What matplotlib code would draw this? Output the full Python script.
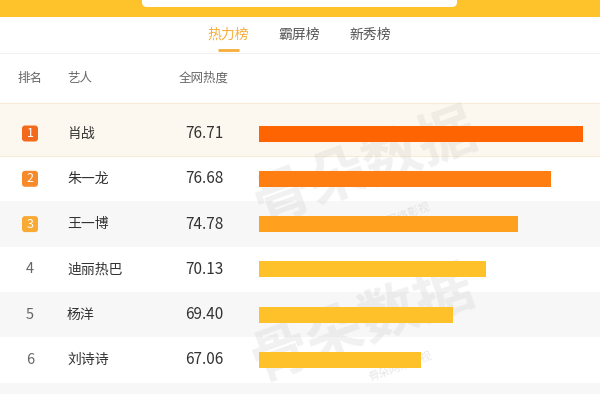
import matplotlib
matplotlib.use("Agg")
import matplotlib.pyplot as plt
from matplotlib.patches import FancyBboxPatch, Rectangle

plt.rcParams['font.family'] = ['Noto Sans CJK SC', 'DejaVu Sans']

# ---- data ----
tabs = ["热力榜", "霸屏榜", "新秀榜"]
columns = ["排名", "艺人", "全网热度"]
ranks = [1, 2, 3, 4, 5, 6]
artists = ["肖战", "朱一龙", "王一博", "迪丽热巴", "杨洋", "刘诗诗"]
heat = [76.71, 76.68, 74.78, 70.13, 69.40, 67.06]
bar_share = [100, 90, 80, 70, 60, 50]  # bar length, % of the longest bar
bar_colors = ["#fe6402", "#ff7e12", "#ffa01f", "#fec12a", "#fec12a", "#fec12a"]
badge_colors = ["#f26a1b", "#f68a2b", "#f9aa34"]

W, H = 600, 394
fig = plt.figure(figsize=(W / 100, H / 100), dpi=100)

# chrome layer in pixel coordinates
top = fig.add_axes([0, 0, 1, 1])
top.set_xlim(0, W)
top.set_ylim(H, 0)
top.axis("off")

top.add_patch(Rectangle((0, 0), W, 16.5, fc="#fec22b", ec="none"))
top.add_patch(FancyBboxPatch((142, -12), 315, 19, boxstyle="round,pad=0,rounding_size=5",
                             fc="white", ec="none"))
tab_x = [228, 299, 370]
for x, t in zip(tab_x, tabs):
    top.text(x, 35, t, ha="center", va="center", fontsize=10,
             color="#f7ad3a" if t == tabs[0] else "#555555")
top.plot([218, 239], [50, 50], color="#f7ad3a", lw=2, solid_capstyle="butt")
top.axhline(52.5, color="#f2f2f2", lw=0.8)

col_x = [17, 67, 179]
for x, c in zip(col_x, columns):
    top.text(x, 78, c, ha="left", va="center", fontsize=9, color="#666666")

# rows layer: x in pixels, y in rank units
row0, step = 133.5, 45.3
ylim = (1 + (H - row0) / step, 1 - row0 / step)
ax = fig.add_axes([0, 0, 1, 1], facecolor="none")
ax.set_xlim(0, W)
ax.set_ylim(*ylim)
ax.axis("off")

half = 0.5
# highlighted first row
first_top = ranks[0] - (row0 - 103) / step
ax.add_patch(Rectangle((0, first_top), W, ranks[0] + half - first_top,
                       fc="#fdf8ef", ec="none", zorder=0))
ax.axhline(first_top, color="#f6ecd9", lw=0.8, zorder=0)
ax.axhline(ranks[0] + half, color="#f6ecd9", lw=0.8, zorder=0)
for r in ranks + [7]:
    if r % 2 == 1 and r > 1:
        ax.add_patch(Rectangle((0, r - half), W, 1, fc="#f7f7f7", ec="none", zorder=0))

# faint watermark
for wx, wr, sx, sr in [(365, 1.75, 398, 2.85), (362, 5.2, 400, 6.15)]:
    ax.text(wx, wr, "骨朵数据", ha="center", va="center", fontsize=42, fontweight="bold",
            color="#bbbbbb", alpha=0.2, rotation=20, zorder=1)
    ax.text(sx, sr, "骨朵网络影视", ha="center", va="center", fontsize=8,
            color="#bbbbbb", alpha=0.35, rotation=20, zorder=1)

for i, r in enumerate(ranks):
    if i < len(badge_colors):
        bh = 16 / step
        ax.add_patch(FancyBboxPatch((22, r - bh / 2), 16, bh,
                                    boxstyle="round,pad=0,rounding_size=3",
                                    mutation_aspect=1 / step,
                                    fc=badge_colors[i], ec="none", zorder=3))
        ax.text(30, r, str(r), ha="center", va="center", fontsize=9,
                color="white", zorder=4)
    else:
        ax.text(30, r, str(r), ha="center", va="center", fontsize=10.5,
                color="#666666", zorder=4)
    ax.text(67, r, artists[i], ha="left", va="center", fontsize=10,
            color="#333333", zorder=4)
    ax.text(185, r, f"{heat[i]:.2f}", ha="left", va="center", fontsize=11,
            color="#333333", zorder=4)

# bars layer
bx = fig.add_axes([259 / W, 0, 324 / W, 1], facecolor="none")
bx.set_xlim(0, 100)
bx.set_ylim(*ylim)
bx.axis("off")
bx.barh(ranks, bar_share, height=16 / step, color=bar_colors, zorder=3)

fig.savefig("out.png", dpi=100)
